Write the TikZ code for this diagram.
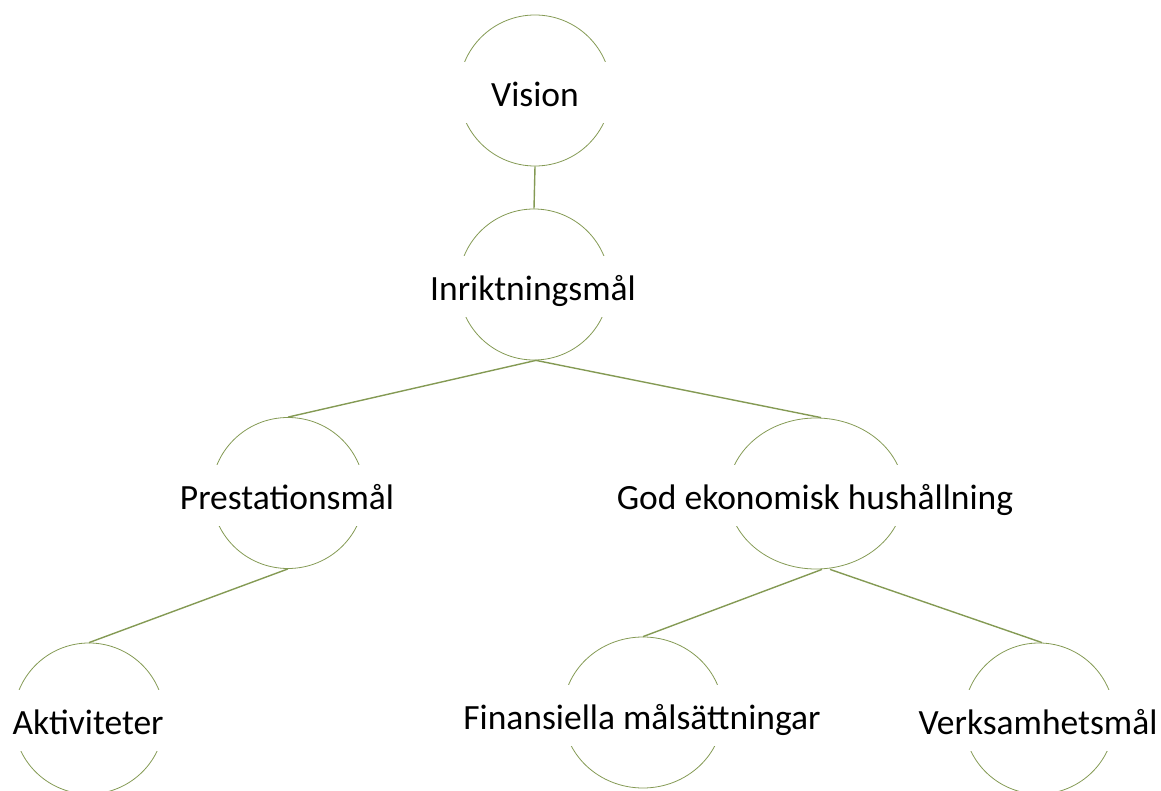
\documentclass[tikz,border=0pt]{standalone}
\usepackage{fontspec}
\setmainfont{Carlito}
\usetikzlibrary{shapes.geometric}
\definecolor{olive}{RGB}{132,154,84}
\tikzset{
  ring/.style={ellipse, draw=olive, line width=0.8pt, inner sep=0pt, minimum height=151pt},
  label/.style={fill=white, inner sep=0pt, minimum height=61pt, text height=36pt, text depth=8pt,
    font=\fontsize{35.5}{40}\selectfont},
  link/.style={draw=olive, line width=1.4pt}
}
\begin{document}
\begin{tikzpicture}[x=1pt,y=-1pt]
\useasboundingbox (0,0) rectangle (1161,791);
% rings
\node[ring, minimum width=152pt] (visionR) at (535,90.5) {};
\node[ring, minimum width=151pt] (inrR) at (534,284.5) {};
\node[ring, minimum width=153pt] (prestR) at (288,493) {};
\node[ring, minimum width=176pt] (godR) at (816,493.5) {};
\node[ring, minimum width=151pt] (aktR) at (89,718.5) {};
\node[ring, minimum width=160pt] (finR) at (643,712.5) {};
\node[ring, minimum width=151pt] (verR) at (1039,718.5) {};
% connectors
\draw[link] (visionR.south) -- (inrR.north);
\draw[link] ([xshift=2pt]inrR.south) -- (prestR.north);
\draw[link] ([xshift=2pt]inrR.south) -- ([xshift=5pt]godR.north);
\draw[link] (prestR.south) -- (aktR.north);
\draw[link] ([xshift=6pt]godR.south) -- (finR.north);
\draw[link] ([xshift=14pt]godR.south) -- ([xshift=3pt]verR.north);
% labels
\node[label, minimum width=162pt] (vision) at (535,92.5) {Vision};
\node[label, minimum width=161pt] (inr) at (533,286.5) {Inriktningsmål};
\node[label, minimum width=163pt] (prest) at (287,495) {Prestationsmål};
\node[label, minimum width=186pt] (god) at (815,495) {God ekonomisk hushållning};
\node[label, minimum width=161pt] (akt) at (88,720.5) {Aktiviteter};
\node[label, minimum width=170pt] (fin) at (642,715) {Finansiella målsättningar};
\node[label, minimum width=161pt] (ver) at (1038,720.5) {Verksamhetsmål};
\end{tikzpicture}
\end{document}
